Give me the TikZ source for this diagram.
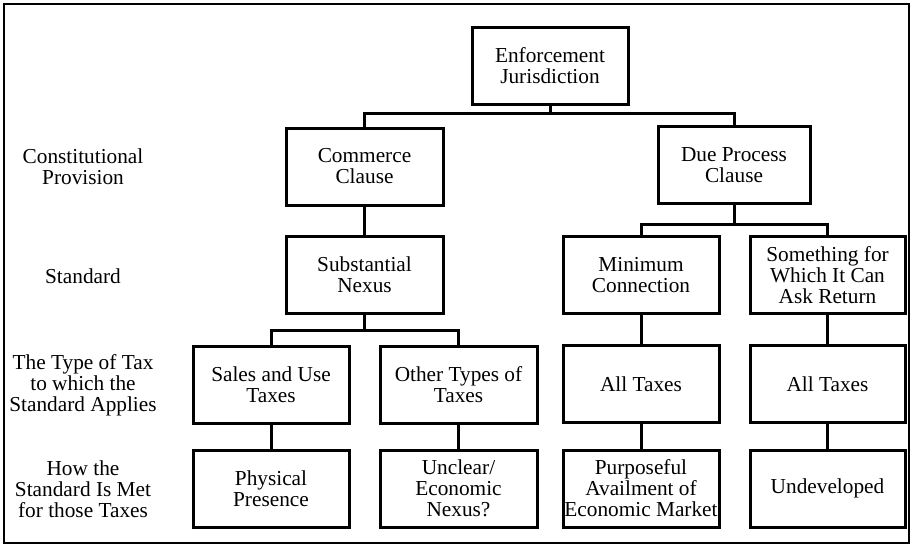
\documentclass[tikz,border=0pt]{standalone}
\usepackage{fontspec}
\setmainfont{Liberation Serif}

\begin{document}
\begin{tikzpicture}[
  x=0.5pt,
  y=-0.5pt,
  box/.style={
    draw,
    line width=1.5pt,
    align=center,
    inner sep=0pt,
    minimum width=78pt,
    minimum height=38.5pt,
    font=\fontsize{10.65}{10.5}\selectfont
  },
  rowlabel/.style={
    align=center,
    inner sep=0pt,
    font=\fontsize{10.65}{10.5}\selectfont
  },
  link/.style={
    draw,
    line width=1.5pt
  },
]
\useasboundingbox (0,0) rectangle (911,546);
\draw[line width=1pt] (4,4) rectangle (909,543);

% row labels
\node[rowlabel] (lprov) at (83,167) {Constitutional\\Provision};
\node[rowlabel] (lstd)  at (83,276) {Standard};
\node[rowlabel] (ltype) at (83,385) {The Type of Tax\\to which the\\Standard Applies};
\node[rowlabel] (lmet)  at (83,489) {How the\\Standard Is Met\\for those Taxes};

% boxes
\node[box] (ej)  at (550,65.5)  {Enforcement\\Jurisdiction};
\node[box, minimum width=78.5pt] (cc) at (364.5,166.5) {Commerce\\Clause};
\node[box, minimum width=76pt]   (dpc) at (734,165) {Due Process\\Clause};
\node[box, minimum width=78.5pt] (sn) at (364.5,275) {Substantial\\Nexus};
\node[box] (mc)  at (641,275)   {Minimum\\Connection};
\node[box, minimum width=77.5pt] (sfw) at (827.5,275) {Something for\\Which It Can\\Ask Return};
\node[box] (sut) at (271,385)   {Sales and Use\\Taxes};
\node[box, minimum width=78.5pt] (ott) at (458.5,385) {Other Types of\\Taxes};
\node[box] (at1) at (641,384)   {All Taxes};
\node[box, minimum width=77.5pt] (at2) at (827.5,384) {All Taxes};
\node[box] (pp)  at (271,488.5) {Physical\\Presence};
\node[box, minimum width=78.5pt] (ue) at (458.5,488.5) {Unclear/\\Economic\\Nexus?};
\node[box] (pa)  at (641,488.5) {Purposeful\\Availment of\\Economic Market};
\node[box, minimum width=77.5pt] (ud) at (827.5,488.5) {Undeveloped};

% forks
\coordinate (ejfork)  at (550,113);
\coordinate (snfork)  at (364.5,330);
\coordinate (dpcfork) at (734,224);

\draw[link] (ej.south) -- (ejfork);
\draw[link] (cc.north) |- (ejfork) -| (dpc.north);
\draw[link] (cc.south) -- (sn.north);
\draw[link] (sn.south) -- (snfork);
\draw[link] (sut.north) |- (snfork) -| (ott.north);
\draw[link] (dpc.south) -- (dpcfork);
\draw[link] (mc.north) |- (dpcfork) -| (sfw.north);
\draw[link] (sut.south) -- (pp.north);
\draw[link] (ott.south) -- (ue.north);
\draw[link] (mc.south) -- (at1.north);
\draw[link] (at1.south) -- (pa.north);
\draw[link] (sfw.south) -- (at2.north);
\draw[link] (at2.south) -- (ud.north);
\end{tikzpicture}
\end{document}
